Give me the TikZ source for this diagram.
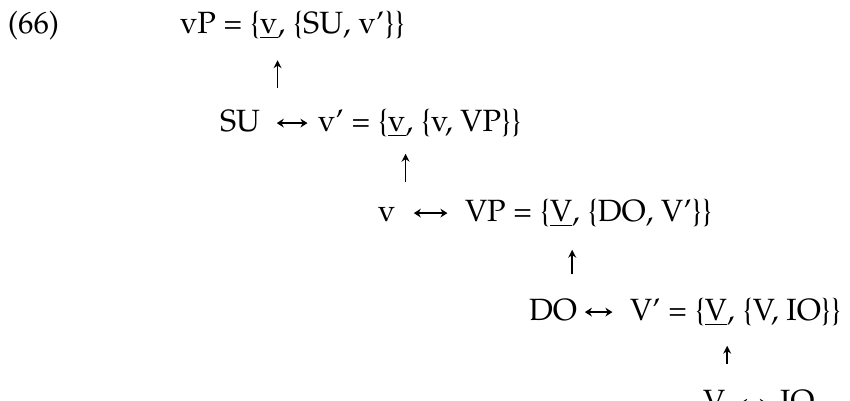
\documentclass[tikz,border=0pt]{standalone}
\usepackage[T1]{fontenc}
\usepackage{mathpazo}
\usetikzlibrary{positioning, arrows.meta}

\newcommand{\lingfont}{\fontsize{17.5}{21}\selectfont}

\begin{document}
\begin{tikzpicture}[
  x=0.02cm, y=-0.02cm,
% 1. Plain text nodes sitting on their baseline
  every node/.style={
    inner sep=0pt,
    outer sep=0pt,
    anchor=base west,
    font=\lingfont
  },
% 2. Upward arrow into the head
  up/.style={
    -{Stealth[length=4.5pt, width=4.5pt]},
    line width=0.9pt
  },
% 3. Two-way link between sisters (gap left, gap right)
  sis/.style 2 args={
    {Stealth[length=4pt, width=5pt]}-{Stealth[length=4pt, width=5pt]},
    line width=0.8pt,
    shorten <=#1,
    shorten >=#2
  }
]

  \useasboundingbox (0,0) rectangle (850,400);

  % Example number
  \node (ex) at (8,33) {(66)};

  % Row 1
  \node (lhs1) at (180,33) {vP = \{};
  \node[base right=0pt of lhs1] (hd1) {\underline{v}};
  \node[base right=0pt of hd1] (rest1) {, \{SU, v'\}\}};

  % Row 2
  \node (sis2) at (220,131) {SU};
  \node (lhs2) at (318,131) {v' = \{};
  \node[base right=0pt of lhs2] (hd2) {\underline{v}};
  \node[base right=0pt of hd2] (rest2) {, \{v, VP\}\}};

  % Row 3
  \node (sis3) at (378,221) {v};
  \node (lhs3) at (465,221) {VP = \{};
  \node[base right=0pt of lhs3] (hd3) {\underline{V}};
  \node[base right=0pt of hd3] (rest3) {, \{DO, V'\}\}};

  % Row 4
  \node (sis4) at (529,320) {DO};
  \node (lhs4) at (630,320) {V' = \{};
  \node[base right=0pt of lhs4] (hd4) {\underline{V}};
  \node[base right=0pt of hd4] (rest4) {, \{V, IO\}\}};

  % Row 5 (cut off at the bottom)
  \node (sis5) at (703,411) {V};
  \node (io) at (780,411) {IO};

  % Sister links
  \draw[sis={9.5pt}{6pt}] ([yshift=4.5pt]sis2.base east) -- ([yshift=4.5pt]lhs2.base west);
  \draw[sis={10.5pt}{10pt}] ([yshift=4.5pt]sis3.base east) -- ([yshift=4.5pt]lhs3.base west);
  \draw[sis={4.5pt}{10pt}] ([yshift=4.5pt]sis4.base east) -- ([yshift=4.5pt]lhs4.base west);
  \draw[sis={8.5pt}{7.5pt}] ([yshift=4.5pt]sis5.base east) -- ([yshift=4.5pt]io.base west);

  % Projection arrows
  \draw[up, shorten <=0.42cm, shorten >=0.42cm] (lhs2.north -| hd1.south east) -- (hd1.south east);
  \draw[up, shorten <=0.33cm, shorten >=0.33cm] (lhs3.north -| hd2.south east) -- (hd2.south east);
  \draw[up, shorten <=0.47cm, shorten >=0.45cm] (lhs4.north -| hd3.south east) -- (hd3.south east);
  \draw[up, shorten <=0.52cm, shorten >=0.39cm] (sis5.north -| hd4.south east) -- (hd4.south east);

\end{tikzpicture}
\end{document}
